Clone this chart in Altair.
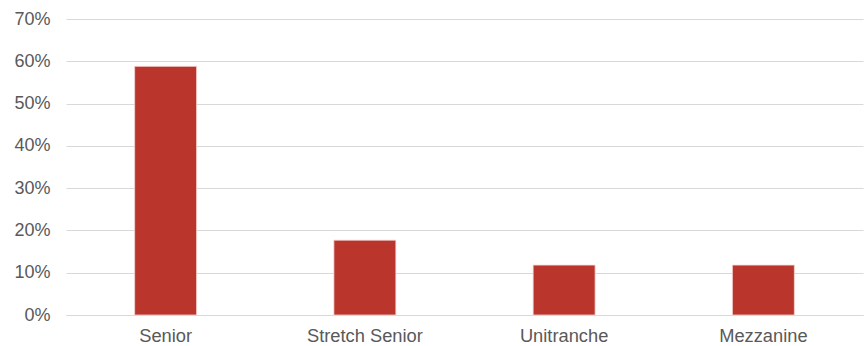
import altair as alt
import pandas as pd

# Share of deals by debt type
categories = ["Senior", "Stretch Senior", "Unitranche", "Mezzanine"]
shares = [0.588, 0.177, 0.118, 0.118]

df = pd.DataFrame({"type": categories, "share": shares})

FONT = "Liberation Sans"
TEXT = "#595959"
GRID = "#D9D9D9"
BAR = "#BA352C"

chart = (
    alt.Chart(df)
    .mark_bar(color=BAR, stroke="#F4D6D3", strokeWidth=0.8)
    .encode(
        x=alt.X(
            "type:N",
            sort=categories,
            title=None,
            scale=alt.Scale(paddingInner=0.689, paddingOuter=0.3445),
            axis=alt.Axis(
                labelAngle=0,
                labelFont=FONT,
                labelFontSize=18.3,
                labelColor=TEXT,
                labelPadding=12.5,
                ticks=False,
                domain=True,
                domainColor=GRID,
                domainWidth=1,
                grid=False,
            ),
        ),
        y=alt.Y(
            "share:Q",
            title=None,
            scale=alt.Scale(domain=[0, 0.7], nice=False),
            axis=alt.Axis(
                values=[0, 0.1, 0.2, 0.3, 0.4, 0.5, 0.6, 0.7],
                format=".0%",
                labelFont=FONT,
                labelFontSize=18,
                labelColor=TEXT,
                labelPadding=16,
                ticks=False,
                domain=False,
                grid=True,
                gridColor=GRID,
                gridWidth=1.2,
            ),
        ),
    )
    .properties(
        width=797,
        height=296,
        autosize=alt.AutoSizeParams(type="none"),
        padding={"left": 66, "top": 19, "right": 3, "bottom": 31},
    )
    .configure(background="white")
    .configure_view(strokeWidth=0, stroke="transparent")
)

chart.save("out.html", embed_options={"renderer": "svg", "actions": False})
